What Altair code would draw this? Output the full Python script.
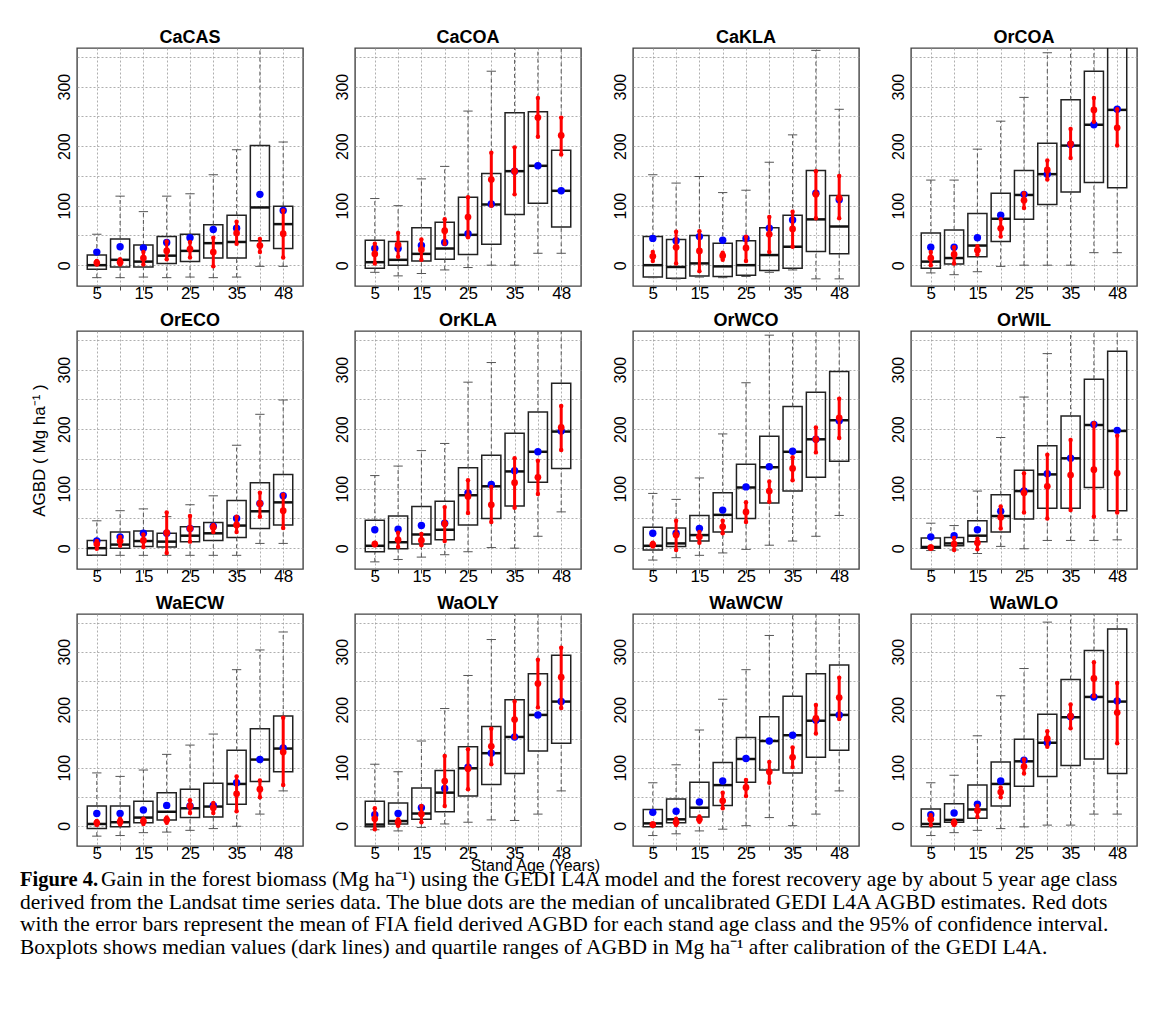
import altair as alt
import pandas as pd

SITES = ["CaCAS", "CaCOA", "CaKLA", "OrCOA", "OrECO", "OrKLA",
         "OrWCO", "OrWIL", "WaECW", "WaOLY", "WaWCW", "WaWLO"]
AGE_LABELS = ["5", "10", "15", "20", "25", "30", "35", "40", "48"]
SHOWN_LABELS = ["5", "15", "25", "35", "48"]

# boxplot statistics (Mg/ha), one value per age class
WHISK_LO = {
    "CaCAS": [-21, -21, -20, -21, -20, -21, -20, -2, -2],
    "CaCOA": [-12, -18, -14, -8, -4, 0, 0, 20, 20],
    "CaKLA": [-21, -23, -20, -21, -19, -12, -8, -23, -23],
    "OrCOA": [-13, -16, -11, -2, 0, 0, 0, 21, 21],
    "OrECO": [-12, -12, -12, -12, -12, -12, -12, 8, 8],
    "OrKLA": [-23, -19, -15, -11, -6, 1, 0, 20, 61],
    "OrWCO": [-20, -16, -12, -8, -2, 5, 12, 20, 55],
    "OrWIL": [-4, -3, -9, 3, -1, 13, 13, 13, 14],
    "WaECW": [-18, -17, -12, -11, -8, -5, -1, 20, 60],
    "WaOLY": [-7, -9, -3, 3, 6, 10, 9, 20, 60],
    "WaWCW": [-17, -14, -9, -6, 0, 14, 0, 20, 60],
    "WaWLO": [-17, -12, -8, -5, -2, 1, 1, 20, 20],
}
Q1 = {
    "CaCAS": [-7, -3, -3, 3, 6, 12, 12, 41, 28],
    "CaCOA": [-5, 0, 7, 10, 18, 35, 85, 104, 64],
    "CaKLA": [-20, -22, -18, -19, -17, -9, -5, 23, 19],
    "OrCOA": [-5, 2, 14, 40, 77, 102, 123, 139, 130],
    "OrECO": [-12, 0, 3, 2, 11, 13, 18, 33, 39],
    "OrKLA": [-6, -1, 7, 14, 39, 50, 71, 111, 134],
    "OrWCO": [-3, 3, 12, 27, 50, 76, 96, 119, 146],
    "OrWIL": [0, 4, 11, 27, 49, 67, 67, 102, 63],
    "WaECW": [-5, -2, 5, 10, 14, 15, 37, 76, 93],
    "WaOLY": [-2, 3, 11, 24, 51, 71, 90, 129, 142],
    "WaWCW": [-2, 5, 15, 35, 75, 96, 91, 118, 130],
    "WaWLO": [-2, 6, 13, 34, 68, 85, 104, 115, 90],
}
MEDIAN = {
    "CaCAS": [0, 9, 6, 16, 24, 37, 39, 97, 69],
    "CaCOA": [5, 9, 19, 28, 51, 102, 158, 167, 125],
    "CaKLA": [0, -3, 3, -2, 0, 17, 31, 77, 65],
    "OrCOA": [6, 12, 33, 78, 118, 153, 201, 236, 261],
    "OrECO": [0, 6, 12, 11, 21, 25, 38, 62, 77],
    "OrKLA": [4, 10, 23, 31, 89, 104, 129, 162, 196],
    "OrWCO": [4, 8, 22, 56, 102, 136, 162, 183, 215],
    "OrWIL": [2, 8, 21, 54, 96, 124, 151, 207, 197],
    "WaECW": [3, 6, 14, 24, 30, 33, 72, 114, 133],
    "WaOLY": [2, 8, 21, 57, 99, 125, 153, 191, 214],
    "WaWCW": [4, 11, 31, 70, 115, 146, 156, 181, 191],
    "WaWLO": [3, 10, 28, 72, 111, 143, 187, 222, 214],
}
Q3 = {
    "CaCAS": [17, 44, 34, 48, 52, 68, 84, 201, 99],
    "CaCOA": [42, 40, 63, 72, 114, 154, 256, 258, 193],
    "CaKLA": [48, 43, 50, 37, 41, 63, 84, 159, 117],
    "OrCOA": [54, 59, 87, 121, 159, 205, 278, 326, 400],
    "OrECO": [13, 27, 29, 25, 36, 43, 80, 110, 124],
    "OrKLA": [47, 54, 70, 79, 135, 156, 193, 229, 277],
    "OrWCO": [35, 34, 55, 93, 141, 188, 238, 262, 297],
    "OrWIL": [17, 18, 46, 90, 131, 172, 222, 284, 331],
    "WaECW": [34, 34, 42, 57, 63, 73, 130, 167, 189],
    "WaOLY": [42, 39, 65, 95, 136, 171, 217, 262, 294],
    "WaWCW": [28, 46, 75, 109, 152, 188, 223, 262, 277],
    "WaWLO": [29, 38, 70, 110, 149, 192, 252, 302, 339],
}
WHISK_HI = {
    "CaCAS": [52, 116, 90, 116, 120, 152, 194, 400, 207],
    "CaCOA": [112, 100, 145, 166, 259, 326, 400, 400, 400],
    "CaKLA": [152, 138, 149, 122, 126, 173, 219, 361, 262],
    "OrCOA": [143, 143, 195, 242, 282, 357, 400, 400, 400],
    "OrECO": [46, 63, 66, 53, 73, 88, 173, 225, 249],
    "OrKLA": [122, 138, 164, 176, 279, 312, 400, 400, 400],
    "OrWCO": [92, 82, 118, 192, 278, 358, 400, 400, 400],
    "OrWIL": [42, 38, 96, 186, 254, 327, 400, 400, 400],
    "WaECW": [91, 85, 96, 123, 139, 158, 269, 303, 334],
    "WaOLY": [106, 93, 146, 202, 259, 321, 400, 400, 400],
    "WaWCW": [74, 105, 165, 218, 269, 328, 400, 400, 400],
    "WaWLO": [74, 87, 155, 224, 271, 351, 400, 400, 400],
}
# blue: median of uncalibrated GEDI L4A AGBD
BLUE = {
    "CaCAS": [22, 31, 29, 38, 46, 60, 62, 119, 92],
    "CaCOA": [28, 28, 33, 38, 53, 103, 158, 167, 125],
    "CaKLA": [45, 41, 48, 42, 45, 62, 76, 121, 110],
    "OrCOA": [30, 30, 46, 84, 119, 153, 203, 236, 262],
    "OrECO": [12, 19, 25, 25, 33, 37, 50, 75, 88],
    "OrKLA": [31, 32, 38, 42, 93, 107, 130, 162, 197],
    "OrWCO": [25, 25, 33, 64, 103, 137, 163, 183, 214],
    "OrWIL": [19, 21, 31, 62, 96, 125, 151, 208, 198],
    "WaECW": [21, 21, 27, 35, 34, 35, 74, 114, 134],
    "WaOLY": [19, 21, 31, 64, 101, 125, 153, 191, 214],
    "WaWCW": [23, 25, 41, 77, 116, 146, 156, 182, 191],
    "WaWLO": [19, 22, 37, 77, 113, 143, 188, 222, 215],
}
# red: FIA field AGBD mean and 95% CI
RED_MEAN = {
    "CaCAS": [4, 5, 12, 24, 27, 22, 54, 33, 53],
    "CaCOA": [19, 34, 26, 58, 81, 144, 158, 248, 218],
    "CaKLA": [15, 30, 24, 16, 29, 52, 61, 119, 113],
    "OrCOA": [12, 18, 25, 62, 109, 160, 204, 261, 231],
    "OrECO": [7, 12, 13, 26, 33, 35, 39, 75, 63],
    "OrKLA": [7, 14, 13, 41, 87, 73, 110, 119, 203],
    "OrWCO": [6, 22, 19, 36, 61, 96, 134, 183, 219],
    "OrWIL": [1, 7, 9, 52, 93, 104, 123, 132, 126],
    "WaECW": [5, 7, 8, 10, 34, 31, 55, 63, 127],
    "WaOLY": [12, 6, 20, 77, 98, 137, 183, 245, 256],
    "WaWCW": [2, 6, 11, 43, 66, 93, 118, 185, 221],
    "WaWLO": [11, 5, 26, 58, 102, 150, 189, 254, 195],
}
RED_LO = {
    "CaCAS": [1, 1, 1, 10, 13, -2, 36, 22, 13],
    "CaCOA": [3, 14, 9, 36, 47, 100, 119, 216, 186],
    "CaKLA": [7, 3, -10, 9, 7, 22, 31, 79, 79],
    "OrCOA": [0, 3, 18, 48, 96, 144, 180, 241, 201],
    "OrECO": [-1, 4, 2, -8, 11, 27, 27, 53, 34],
    "OrKLA": [5, 2, 5, 12, 59, 44, 68, 91, 165],
    "OrWCO": [3, -3, 9, 25, 44, 78, 114, 161, 185],
    "OrWIL": [0, -3, -2, 33, 60, 50, 64, 53, 60],
    "WaECW": [1, 2, 3, 5, 22, 22, 25, 49, 70],
    "WaOLY": [-6, 0, 6, 34, 63, 106, 152, 204, 203],
    "WaWCW": [0, 1, 7, 30, 51, 74, 101, 159, 184],
    "WaWLO": [1, 1, 15, 49, 90, 136, 168, 223, 142],
}
RED_HI = {
    "CaCAS": [7, 10, 22, 40, 39, 46, 73, 44, 92],
    "CaCOA": [36, 54, 43, 77, 114, 189, 198, 281, 248],
    "CaKLA": [22, 56, 57, 21, 48, 81, 90, 158, 150],
    "OrCOA": [22, 30, 32, 77, 121, 176, 229, 281, 262],
    "OrECO": [12, 19, 23, 60, 54, 39, 53, 93, 90],
    "OrKLA": [9, 26, 24, 69, 114, 103, 151, 147, 239],
    "OrWCO": [9, 46, 27, 46, 77, 112, 153, 203, 251],
    "OrWIL": [3, 17, 16, 70, 126, 157, 182, 210, 189],
    "WaECW": [8, 12, 12, 14, 44, 39, 85, 78, 186],
    "WaOLY": [30, 11, 34, 120, 132, 167, 214, 286, 307],
    "WaWCW": [4, 12, 16, 57, 79, 110, 135, 208, 255],
    "WaWLO": [18, 9, 34, 66, 114, 163, 209, 282, 246],
}

CAPTION_BOLD = "Figure 4."
CAPTION_LINES = [
    "Gain in the forest biomass (Mg ha\u207b\u00b9) using the GEDI L4A model and the forest recovery age by about 5 year age class",
    "derived from the Landsat time series data. The blue dots are the median of uncalibrated GEDI L4A AGBD estimates. Red dots",
    "with the error bars represent the mean of FIA field derived AGBD for each stand age class and the 95% of confidence interval.",
    "Boxplots shows median values (dark lines) and quartile ranges of AGBD in Mg ha\u207b\u00b9 after calibration of the GEDI L4A.",
]

rows = []
for s in SITES:
    for i, age in enumerate(AGE_LABELS):
        rows.append(dict(site=s, pos=i + 1, age=age,
                         lo=WHISK_LO[s][i], q1=Q1[s][i], med=MEDIAN[s][i],
                         q3=Q3[s][i], hi=WHISK_HI[s][i], blue=BLUE[s][i],
                         rmean=RED_MEAN[s][i], rlo=RED_LO[s][i], rhi=RED_HI[s][i]))
df = pd.DataFrame(rows)

label_expr = "''"
for i, lab in reversed(list(enumerate(AGE_LABELS))):
    if lab in SHOWN_LABELS:
        label_expr = f"datum.value == {i + 1} ? '{lab}' : ({label_expr})"

FONT = "Liberation Sans"
XS = alt.Scale(domain=[0.15, 9.85], nice=False, zero=False)
YS = alt.Scale(domain=[-35, 365], nice=False, zero=False)


def panel(site, height):
    xtitle = "Stand Age (Years)" if site == "WaOLY" else ""
    ytitle = "AGBD ( Mg ha\u207b\u00b9 )" if site == "OrECO" else ""
    xaxis = alt.Axis(values=list(range(1, 10)), labelExpr=label_expr, grid=True,
                     gridDash=[2, 2], gridColor="#9a9a9a", gridWidth=0.8,
                     tickSize=4, tickColor="#444", labelFontSize=17, labelFont=FONT,
                     labelColor="black", labelPadding=-5, domain=False, title=xtitle,
                     titleFont=FONT, titleFontSize=16, titleFontWeight="normal",
                     titleColor="black", titleX=180, titleY=11, titleAnchor="middle")
    yaxis = alt.Axis(values=list(range(0, 400, 50)),
                     labelExpr="datum.value % 100 == 0 && datum.value <= 300 ? datum.label : ''",
                     grid=True, gridDash=[2, 2], gridColor="#9a9a9a", gridWidth=0.8,
                     ticks=False, labelAngle=270, labelAlign="center", labelBaseline="bottom",
                     labelFontSize=16, labelFont=FONT, labelColor="black", labelPadding=5,
                     domain=False, title=ytitle, titleFont=FONT, titleFontSize=17,
                     titleFontWeight="normal", titleColor="black", titlePadding=8)

    def X(f):
        return alt.X(f, type="quantitative", scale=XS, axis=xaxis)

    def Y(f):
        return alt.Y(f, type="quantitative", scale=YS, axis=yaxis)

    base = alt.Chart(df[df.site == site]).transform_calculate(
        xl="datum.pos - 0.41", xr="datum.pos + 0.41",
        cl="datum.pos - 0.2", cr="datum.pos + 0.2")

    boxes = base.mark_rect(fillOpacity=0, stroke="#222", strokeWidth=1.5, clip=True).encode(
        x=X("xl"), x2="xr", y=Y("q1"), y2="q3")
    wlo = base.mark_rule(color="#555", strokeDash=[4, 3], strokeWidth=1, clip=True).encode(
        x=X("pos"), y=Y("lo"), y2="q1")
    whi = base.mark_rule(color="#555", strokeDash=[4, 3], strokeWidth=1, clip=True).encode(
        x=X("pos"), y=Y("q3"), y2="hi")
    caplo = base.mark_rule(color="#555", strokeWidth=1, clip=True).encode(
        x=X("cl"), x2="cr", y=Y("lo"))
    caphi = base.mark_rule(color="#555", strokeWidth=1, clip=True).encode(
        x=X("cl"), x2="cr", y=Y("hi"))
    med = base.mark_rule(color="#111", strokeWidth=2.5, clip=True).encode(
        x=X("xl"), x2="xr", y=Y("med"))
    blue = base.mark_circle(color="#0000ff", size=55, opacity=1, clip=True).encode(
        x=X("pos"), y=Y("blue"))
    rbar = base.mark_rule(color="#ff0000", strokeWidth=3, clip=True).encode(
        x=X("pos"), y=Y("rlo"), y2="rhi")
    rends = base.transform_fold(["rlo", "rhi"], as_=["end", "val"]).mark_circle(
        color="#ff0000", size=20, opacity=1, clip=True).encode(x=X("pos"), y=Y("val"))
    rmean = base.mark_circle(color="#ff0000", size=45, opacity=1, clip=True).encode(
        x=X("pos"), y=Y("rmean"))

    return alt.layer(boxes, wlo, whi, caplo, caphi, med, blue, rbar, rends, rmean).properties(
        width=226, height=height,
        title=alt.TitleParams(site, font=FONT, fontSize=18, fontWeight="bold",
                              color="black", offset=1, anchor="middle"))


ROW_HEIGHTS = [238, 238, 232]
grid = alt.concat(*[panel(s, ROW_HEIGHTS[k // 4]) for k, s in enumerate(SITES)],
                  columns=4, bounds="flush", align="each",
                  spacing={"row": 45, "column": 52})

cap_df = pd.DataFrame({"line": list(range(len(CAPTION_LINES))),
                       "text": CAPTION_LINES,
                       "indent": [81] + [0] * (len(CAPTION_LINES) - 1)})
bold_df = pd.DataFrame({"line": [0], "text": [CAPTION_BOLD], "indent": [0]})
cx = alt.Scale(domain=[0, 1080], range=[0, 1080])
cy = alt.Scale(domain=[0, 3], range=[6, 74])
cap_norm = alt.Chart(cap_df).mark_text(align="left", baseline="middle", dx=-57,
                                       font="Liberation Serif", fontSize=21.5,
                                       color="black").encode(
    x=alt.X("indent:Q", scale=cx, axis=None),
    y=alt.Y("line:Q", scale=cy, axis=None),
    text="text:N")
cap_bold = alt.Chart(bold_df).mark_text(align="left", baseline="middle", dx=-57,
                                        font="Liberation Serif", fontSize=20.5,
                                        fontWeight="bold", color="black").encode(
    x=alt.X("indent:Q", scale=cx, axis=None),
    y=alt.Y("line:Q", scale=cy, axis=None),
    text="text:N")
caption = alt.layer(cap_norm, cap_bold).properties(
    width=1060, height=84, view=alt.ViewBackground(strokeOpacity=0))

chart = alt.vconcat(grid, caption, spacing=-21).properties(
    padding={"top": 20, "left": 12, "right": 5, "bottom": 5}
).configure_view(stroke="#444", strokeWidth=1.4)

chart.save("out.html", embed_options={"renderer": "svg", "actions": False})
